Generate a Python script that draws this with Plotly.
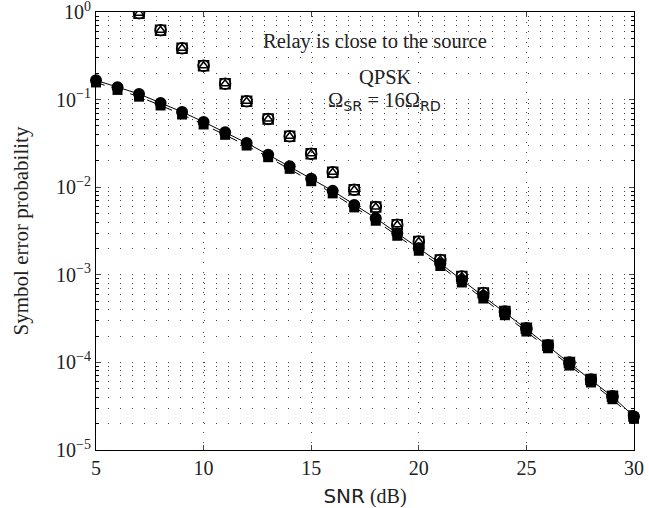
import plotly.graph_objects as go

# ---- data ----
snr_low = list(range(5, 31))
ser_analytic = [0.166, 0.138, 0.116, 0.0917, 0.0723, 0.0556, 0.0423, 0.032, 0.0235, 0.0173,
                0.0125, 0.00908, 0.00628, 0.00442, 0.00298, 0.00201, 0.00135, 0.000873,
                0.000573, 0.00037, 0.00024, 0.000155, 9.8e-5, 6.3e-5, 4.06e-5, 2.42e-5]
ser_approx = [0.157, 0.129, 0.108, 0.0857, 0.0676, 0.052, 0.0396, 0.0299, 0.022, 0.0162,
              0.0117, 0.0085, 0.00588, 0.00414, 0.00279, 0.00188, 0.00126, 0.000817,
              0.000536, 0.000346, 0.000225, 0.000145, 9.2e-5, 5.9e-5, 3.8e-5, 2.27e-5]
snr_high = list(range(7, 31))
ser_upper = [0.97, 0.62, 0.385, 0.243, 0.152, 0.0957, 0.0601, 0.0381, 0.0241, 0.0148,
             0.00936, 0.00594, 0.00373, 0.0024, 0.00148, 0.000957, 0.000618, 0.000381,
             0.000245, 0.000157, 0.0001, 6.4e-5, 4.1e-5, 2.45e-5]

x_ticks = [5, 10, 15, 20, 25, 30]
y_tickvals = [1, 1e-1, 1e-2, 1e-3, 1e-4, 1e-5]
y_ticktext = ["10<sup>0</sup>", "10<sup>−1</sup>", "10<sup>−2</sup>", "10<sup>−3</sup>",
              "10<sup>−4</sup>", "10<sup>−5</sup>"]

SERIF = "Liberation Serif"
TXT = "#222"

fig = go.Figure()

# upper (open markers)
fig.add_trace(go.Scatter(x=snr_high, y=ser_upper, mode="markers",
                         marker=dict(symbol="square-open", size=10, color="black", line=dict(width=1.5)),
                         showlegend=False))
fig.add_trace(go.Scatter(x=snr_high, y=ser_upper, mode="markers",
                         marker=dict(symbol="circle-open", size=11, color="black", line=dict(width=1.5)),
                         showlegend=False))
fig.add_trace(go.Scatter(x=snr_high, y=ser_upper, mode="markers",
                         marker=dict(symbol="triangle-up-open", size=8, color="black", line=dict(width=1.5)),
                         showlegend=False))
# lower curves
fig.add_trace(go.Scatter(x=snr_low, y=ser_approx, mode="lines+markers", cliponaxis=False,
                         line=dict(color="black", width=1, dash="dash"),
                         marker=dict(symbol="square", size=10, color="black"),
                         showlegend=False))
fig.add_trace(go.Scatter(x=snr_low, y=ser_analytic, mode="lines+markers", cliponaxis=False,
                         line=dict(color="black", width=1),
                         marker=dict(symbol="circle", size=12, color="black"),
                         showlegend=False))

grid_dash = "1px,11px"
fig.update_xaxes(range=[5, 30], tickvals=x_ticks, ticks="inside", ticklen=5,
                 showline=True, linecolor="black", linewidth=1, mirror="ticks",
                 showgrid=True, gridcolor="#444", griddash="1px,9px", gridwidth=1,
                 zeroline=False, tickfont=dict(family=SERIF, size=20, color=TXT),
                 ticklabeloverflow="allow", automargin=False,
                 title=dict(text="<span style='font-family:DejaVu Sans'>SNR</span> (dB)",
                            font=dict(family=SERIF, size=20, color=TXT), standoff=12))
fig.update_yaxes(type="log", range=[-5, 0], tickvals=y_tickvals, ticktext=y_ticktext,
                 ticks="inside", ticklen=5,
                 showline=True, linecolor="black", linewidth=1, mirror="ticks",
                 showgrid=True, gridcolor="#444", griddash=grid_dash, gridwidth=1,
                 minor=dict(dtick="D1", showgrid=True, gridcolor="#444", griddash=grid_dash,
                            ticks="inside", ticklen=3, tickcolor="black"),
                 zeroline=False, tickfont=dict(family=SERIF, size=20, color=TXT),
                 ticklabeloverflow="allow", automargin=False,
                 title=dict(text="Symbol error probability",
                            font=dict(family=SERIF, size=21, color=TXT), standoff=21))

ann_font = dict(family=SERIF, size=20.5, color=TXT)
fig.add_annotation(x=0.518, y=0.932, xref="paper", yref="paper", showarrow=False,
                   xanchor="center", yanchor="middle",
                   text="Relay is close to the source", font=ann_font)
fig.add_annotation(x=0.539, y=0.852, xref="paper", yref="paper", showarrow=False,
                   xanchor="center", yanchor="middle",
                   text="QPSK", font=ann_font)
fig.add_annotation(x=0.536, y=0.795, xref="paper", yref="paper", showarrow=False,
                   xanchor="center", yanchor="middle",
                   text="Ω<sub><span style='font-family:DejaVu Sans'>SR</span></sub> = 16Ω<sub><span style='font-family:DejaVu Sans'>RD</span></sub>",
                   font=ann_font)

fig.update_layout(width=649, height=508, margin=dict(l=96, r=15, t=12, b=58, autoexpand=False),
                  paper_bgcolor="white", plot_bgcolor="white", showlegend=False)

fig.write_html("out.html", config={"displayModeBar": False},
               post_script="document.body.style.margin='0';document.body.style.overflow='hidden';")
